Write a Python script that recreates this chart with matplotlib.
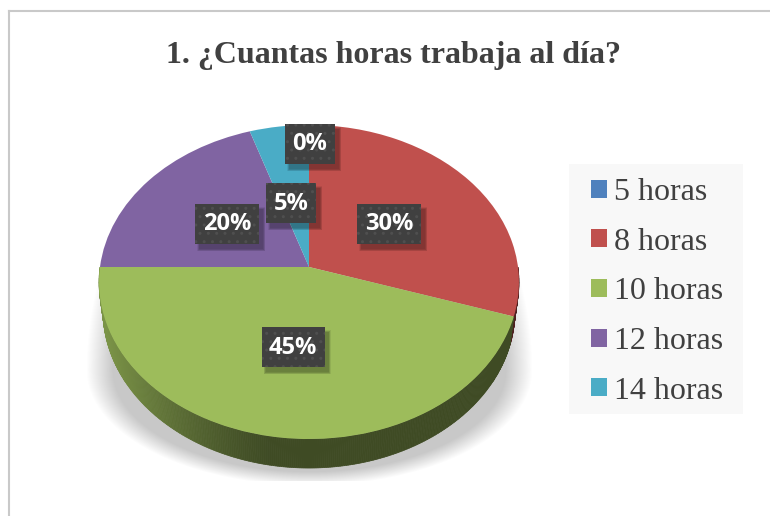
import numpy as np
import matplotlib
matplotlib.use("Agg")
import matplotlib.pyplot as plt
from matplotlib.patches import Rectangle
from matplotlib.transforms import Transform

title = "1. ¿Cuantas horas trabaja al día?"
categories = ["5 horas", "8 horas", "10 horas", "12 horas", "14 horas"]
values = [0, 30, 45, 20, 5]
colors = ["#4f81bd", "#c0504d", "#9dbc5b", "#8064a2", "#4aacc6"]

# label box centres in pixels, same order as values
label_pos = [(310, 144), (389, 224), (293, 347), (227, 224), (291, 203)]
label_w = [50, 64, 63, 64, 50]

W, H = 770, 516
cx, cy = 309, 267
sx, sy, k = 209, 155.6, 0.0955
depth = 29


class Tilt(Transform):
    # tilts the unit circle of the pie, the centre ends up above the middle of the ellipse
    input_dims = 2
    output_dims = 2

    def transform_non_affine(self, pts):
        pts = np.asarray(pts)
        d = 1 + k * pts[:, 1]
        return np.column_stack([cx + sx * pts[:, 0] / d, cy - sy * pts[:, 1] / d])


fig = plt.figure(figsize=(W / 100, H / 100), dpi=100)
plt.rcParams["hatch.linewidth"] = 1.0
ax = fig.add_axes([0, 0, 1, 1])

wedges, _ = ax.pie(values, colors=colors, startangle=90, counterclock=False, radius=1)
tilt = Tilt()
for w in wedges:
    w.set_transform(tilt + ax.transData)
    w.set_clip_on(False)
    w.set_zorder(3)

# frame, only top and left show in the picture
ax.plot([9, W], [11, 11], color="#c9c9c9", lw=1.5, zorder=1)
ax.plot([9, 9], [11, H], color="#c9c9c9", lw=1.5, zorder=1)

# soft shadow under the pie, cut off flat at the bottom
xx, yy = np.meshgrid(np.arange(60, 560), np.arange(240, 481))
ry_s = np.where(yy > 370, 115, 280)
r = np.sqrt(((xx - cx) / 223) ** 2 + ((yy - 370) / ry_s) ** 2)
shadow = np.clip((1.0 - r) / 0.12, 0, 1) * np.clip((yy - 245) / 40, 0, 1)
rgba = np.zeros(shadow.shape + (4,))
rgba[..., :3] = 200 / 255
rgba[..., 3] = shadow
ax.imshow(rgba, extent=(60, 560, 481, 240), aspect="auto", zorder=1.5, interpolation="bilinear")

# side of the pie, thin quads along the front edge
cum = np.cumsum([0] + values) * 3.6
for a in np.arange(90, 270, 0.5):
    idx = np.searchsorted(cum, a + 0.25) - 1
    base = np.array(matplotlib.colors.to_rgb(colors[idx]))
    a0, a1 = np.radians(a), np.radians(a + 0.5)
    rim = tilt.transform_non_affine(np.array([[np.sin(a0), np.cos(a0)], [np.sin(a1), np.cos(a1)]]))
    x0, x1 = rim[:, 0]
    y0, y1 = rim[:, 1]
    low0 = cx + (x0 - cx) * 205 / 209
    low1 = cx + (x1 - cx) * 205 / 209
    t = np.clip((270 - (x0 + x1) / 2) / 165, 0, 1)
    c = base * (0.4 + 0.38 * t ** 1.3)
    ax.fill([x0, x1, low1, low0], [y0, y1, y1 + depth, y0 + depth], color=c, lw=0.5, zorder=2)

ax.text(394, 55, title, ha="center", va="center", fontsize=23, fontweight="bold",
        family="Liberation Serif", color="#404040")

for v, (x, y), bw in zip(values, label_pos, label_w):
    bh = 40
    for n in range(5):
        grow = 4 - n
        ax.add_patch(Rectangle((x - bw / 2 + 4 - grow / 2, y - bh / 2 + 5 - grow / 2), bw + grow, bh + grow,
                               fc="black", ec="none", alpha=0.07, zorder=4))
    ax.add_patch(Rectangle((x - bw / 2, y - bh / 2), bw, bh, fc="#404040", ec="#4f4f4f",
                           hatch="..", lw=0, zorder=5))
    ax.text(x, y + 0.5, f"{v}%", ha="center", va="center", fontsize=17, fontweight="bold",
            family="Open Sans", color="white", zorder=6)

ax.add_patch(Rectangle((569, 164), 174, 250, fc="#f8f8f8", ec="none", zorder=1))
ax.legend(wedges, categories, loc="upper left", bbox_to_anchor=(591, 178),
          bbox_transform=ax.transData, borderaxespad=0, borderpad=0, frameon=False,
          prop={"family": "Liberation Serif", "size": 23},
          labelcolor="#404040", handlelength=0.5, handleheight=0.5,
          handletextpad=0.22, labelspacing=0.647)

ax.set_aspect("auto")
ax.set_xlim(0, W)
ax.set_ylim(H, 0)
ax.axis("off")

fig.savefig("out.png", dpi=100)
